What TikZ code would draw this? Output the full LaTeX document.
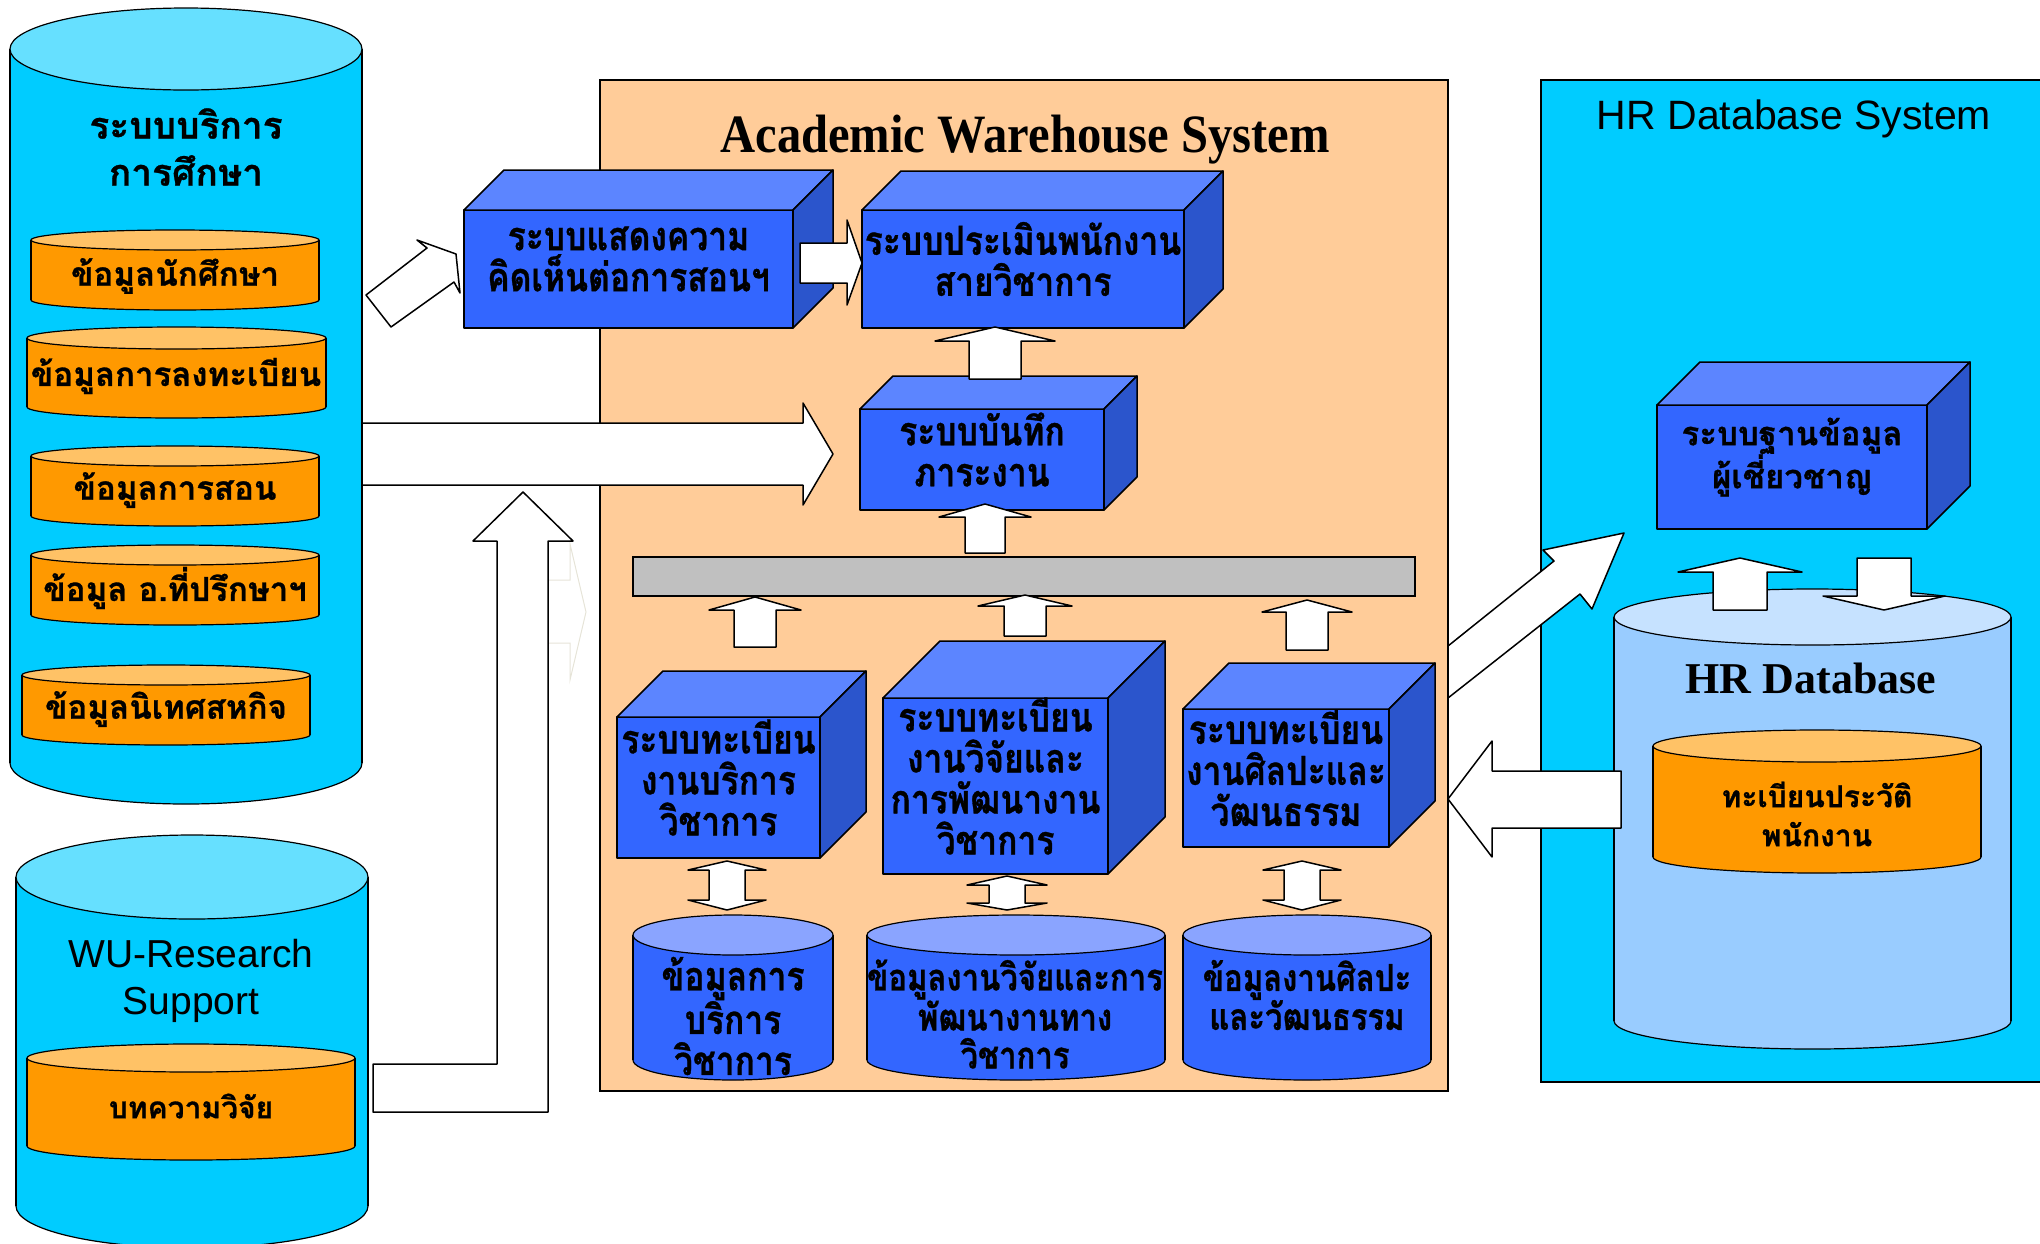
\documentclass[tikz,border=0pt]{standalone}
\usepackage{fontspec}
\setmainfont{Liberation Serif}
\newfontfamily\thai[Script=Thai, BoldFeatures={FakeBold=0.8}]{Loma}
\newfontfamily\thaicn[Script=Thai, FakeStretch=0.84, BoldFeatures={FakeBold=0.8}]{Loma}
\newfontfamily\arial{Liberation Sans}
\newfontfamily\timescn[FakeStretch=0.9]{Liberation Serif}

\definecolor{skyblue}{HTML}{00CCFF}
\definecolor{skytop}{HTML}{66E0FF}
\definecolor{orng}{HTML}{FF9900}
\definecolor{orngtop}{HTML}{FFC266}
\definecolor{peach}{HTML}{FFCC99}
\definecolor{sysblue}{HTML}{3366FF}
\definecolor{systop}{HTML}{5C85FF}
\definecolor{sysside}{HTML}{2B55CC}
\definecolor{dbtop}{HTML}{8AA4FF}
\definecolor{hrbody}{HTML}{99CCFF}
\definecolor{hrtop}{HTML}{C6E2FF}
\definecolor{barfill}{HTML}{C0C0C0}
\definecolor{ghost}{HTML}{E6E4D8}

\tikzset{
  outl/.style={draw=black, line width=1.5pt, line join=round},
  blockarr/.style={outl, fill=white},
  face/.style={outl, fill=sysblue, inner sep=0pt, outer sep=0pt},
  condtxt/.style={align=center, font=\thaicn\bfseries\fontsize{40}{41}\selectfont},
  widetxt/.style={align=center, font=\thai\bfseries\fontsize{33}{43}\selectfont},
  topface/.style={outl, fill=systop},
  sideface/.style={outl, fill=sysside},
  itemtxt/.style={align=center, font=\thai\bfseries\fontsize{33}{39}\selectfont},
  dbtxt/.style={align=center, font=\thaicn\bfseries\fontsize{40}{41}\selectfont},
}

% cylinder: left, right, top centre y, bottom centre y, y radius, body, lid
\newcommand{\dbdrum}[7]{%
  \pgfmathsetmacro\drumrx{(#2-#1)/2}
  \pgfmathsetmacro\drumcx{(#1+#2)/2}
  \filldraw[fill=#6, line width=1.2pt] (\drumcx,#4) ellipse [x radius=\drumrx pt, y radius=#5 pt];
  \fill[#6] (#1,#3) rectangle (#2,#4);
  \draw[line width=1.2pt] (#1,#3) -- (#1,#4) (#2,#3) -- (#2,#4);
  \filldraw[fill=#7, line width=1.2pt] (\drumcx,#3) ellipse [x radius=\drumrx pt, y radius=#5 pt];
}

% 3d box: name, text style, x1, y1, x2, y2, depth, text
\newcommand{\sysbox}[8]{%
  \node[face, minimum width={(#5-#3)*1pt}, minimum height={(#6-#4)*1pt}] (#1) at ({(#3+#5)/2},{(#4+#6)/2}) {};
  \draw[topface] (#1.north west) -- ++(#7,-#7) -- ++({#5-#3},0) -- (#1.north east) -- cycle;
  \draw[sideface] (#1.north east) -- ++(#7,-#7) -- ++(0,{#6-#4}) -- (#1.south east) -- cycle;
  \node[#2, yshift=10pt] (#1-txt) at (#1.center) {#8};
}

% vertical block arrow: x, tip, head base, tail, half head, half shaft
\newcommand{\vertarr}[6]{%
  \draw[blockarr] (#1,#2) -- ({#1+#5},#3) -- ({#1+#6},#3) -- ({#1+#6},#4) -- ({#1-#6},#4)
    -- ({#1-#6},#3) -- ({#1-#5},#3) -- cycle;
}

% double block arrow: x, tip 1, base 1, base 2, tip 2, half head, half shaft
\newcommand{\dblarr}[7]{%
  \draw[blockarr] (#1,#2) -- ({#1+#6},#3) -- ({#1+#7},#3) -- ({#1+#7},#4) -- ({#1+#6},#4) -- (#1,#5)
    -- ({#1-#6},#4) -- ({#1-#7},#4) -- ({#1-#7},#3) -- ({#1-#6},#3) -- cycle;
}

\begin{document}
\begin{tikzpicture}[x=1pt, y=-1pt]
    \useasboundingbox (0,0) rectangle (2040,1243);

    % education service store
    \dbdrum{10}{362}{49}{763}{41}{skyblue}{skytop}
    \node[align=center, font=\thai\bfseries\fontsize{37}{47}\selectfont] (edu) at (186,147) {ระบบบริการ\\การศึกษา};
    \dbdrum{31}{319}{240}{300}{10}{orng}{orngtop}
    \dbdrum{27}{326}{338}{407}{11}{orng}{orngtop}
    \dbdrum{31}{319}{456}{516}{10}{orng}{orngtop}
    \dbdrum{31}{319}{555}{615}{10}{orng}{orngtop}
    \dbdrum{22}{310}{675}{735}{10}{orng}{orngtop}
    \node[itemtxt] (stud) at (175,276) {ข้อมูลนักศึกษา};
    \node[itemtxt] (regi) at (176,376) {ข้อมูลการลงทะเบียน};
    \node[itemtxt] (teach) at (175,490) {ข้อมูลการสอน};
    \node[itemtxt] (advis) at (175,588) {ข้อมูล อ.ที่ปรึกษาฯ};
    \node[itemtxt] (coop) at (166,709) {ข้อมูลนิเทศสหกิจ};

    % research support store
    \dbdrum{16}{368}{877}{1206}{42}{skyblue}{skytop}
    \node[align=center, font=\arial\fontsize{39}{47}\selectfont] (wur) at (191,981) {WU-Research\\Support};
    \dbdrum{27}{355}{1058}{1146}{14}{orng}{orngtop}
    \node[itemtxt, font=\thai\bfseries\fontsize{30}{39}\selectfont] (paper) at (191,1106) {บทความวิจัย};

    % HR side
    \draw[line width=1.5pt, fill=skyblue] (1541,80) rectangle (2046,1082);
    \node[font=\arial\fontsize{41}{47}\selectfont] (hrsys) at (1794,119) {HR Database System};
    \draw[blockarr] (1448,646) -- (1554,561) -- (1543,550) -- (1624,533) -- (1592,609) -- (1580,594) -- (1448,698) -- cycle;

    % warehouse
    \draw[line width=1.5pt, fill=peach] (600,80) rectangle (1448,1091);
    \node[font=\timescn\bfseries\fontsize{54}{60}\selectfont] (acad) at (1025,140) {Academic Warehouse System};

    % arrows from the left stores
    \draw[ghost, line width=1pt] (548,580) -- (570,580) -- (570,544) -- (586,612) -- (570,680) -- (570,643) -- (548,643);
    \draw[blockarr] (373,1064) -- (497,1064) -- (497,541) -- (473,541) -- (523,492) -- (573,541)
        -- (548,541) -- (548,1112) -- (373,1112) -- cycle;
    \draw[blockarr] (362,423) -- (803,423) -- (803,403) -- (833,454) -- (803,505) -- (803,485) -- (362,485) -- cycle;
    \draw[blockarr] (366,295) -- (427,248) -- (417,240) -- (456,254) -- (460,293) -- (454,282) -- (391,327) -- cycle;

    % systems
    \sysbox{opin}{condtxt}{464}{210}{793}{328}{40}{ระบบแสดงความ\\คิดเห็นต่อการสอนฯ}
    \sysbox{eval}{condtxt}{862}{210}{1184}{328}{39}{ระบบประเมินพนักงาน\\สายวิชาการ}
    \sysbox{load}{condtxt}{860}{409}{1104}{510}{33}{ระบบบันทึก\\ภาระงาน}
    \draw[blockarr] (800,243) -- (847,243) -- (847,220) -- (862,263) -- (847,305) -- (847,283) -- (800,283) -- cycle;
    \vertarr{995}{327}{341}{379}{60}{26}
    \vertarr{985}{504}{517}{553}{46}{20}

    \draw[line width=1.5pt, fill=barfill] (633,557) rectangle (1415,596);

    \sysbox{svc}{condtxt}{617}{717}{820}{858}{46}{ระบบทะเบียน\\งานบริการ\\วิชาการ}
    \sysbox{resr}{condtxt}{883}{698}{1108}{874}{57}{ระบบทะเบียน\\งานวิจัยและ\\การพัฒนางาน\\วิชาการ}
    \sysbox{arts}{condtxt}{1183}{709}{1389}{847}{46}{ระบบทะเบียน\\งานศิลปะและ\\วัฒนธรรม}
    \vertarr{755}{597}{610}{647}{46}{21}
    \vertarr{1025}{595}{606}{636}{47}{21}
    \vertarr{1307}{600}{612}{650}{45}{21}

    \dbdrum{633}{833}{935}{1060}{20}{sysblue}{dbtop}
    \dbdrum{867}{1165}{935}{1060}{20}{sysblue}{dbtop}
    \dbdrum{1183}{1431}{935}{1060}{20}{sysblue}{dbtop}
    \node[dbtxt] (svcdb) at (733,1016) {ข้อมูลการ\\บริการ\\วิชาการ};
    \node[dbtxt, font=\thaicn\bfseries\fontsize{37}{38}\selectfont] (resdb) at (1015,1014) {ข้อมูลงานวิจัยและการ\\พัฒนางานทาง\\วิชาการ};
    \node[dbtxt, font=\thaicn\bfseries\fontsize{37}{39}\selectfont] (artdb) at (1307,995) {ข้อมูลงานศิลปะ\\และวัฒนธรรม};
    \dblarr{727}{861}{870}{900}{910}{39}{18}
    \dblarr{1007}{876}{885}{903}{910}{40}{18}
    \dblarr{1302}{861}{870}{900}{910}{39}{18}

    % HR database
    \dbdrum{1614}{2011}{617}{1021}{28}{hrbody}{hrtop}
    \node[font=\bfseries\fontsize{44}{48}\selectfont] (hrdb) at (1811,678) {HR Database};
    \dbdrum{1653}{1981}{746}{857}{16}{orng}{orngtop}
    \node[itemtxt, font=\thai\bfseries\fontsize{30}{39}\selectfont] (staff) at (1817,814) {ทะเบียนประวัติ\\พนักงาน};
    \sysbox{expt}{widetxt}{1657}{405}{1927}{529}{43}{ระบบฐานข้อมูล\\ผู้เชี่ยวชาญ}
    \vertarr{1740}{558}{572}{610}{62}{27}
    \vertarr{1884}{610}{596}{558}{61}{27}
    \draw[blockarr] (1621,771) -- (1492,771) -- (1492,741) -- (1448,799) -- (1492,857) -- (1492,828) -- (1621,828) -- cycle;
\end{tikzpicture}
\end{document}
